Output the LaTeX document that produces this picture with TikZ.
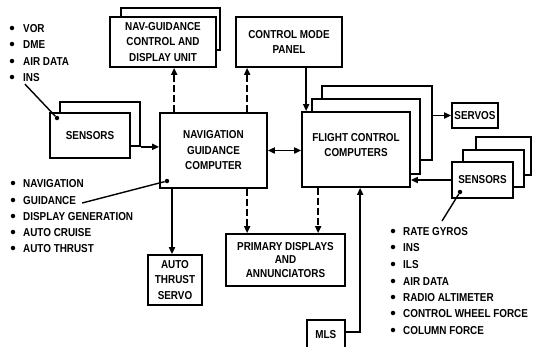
\documentclass[tikz,border=0pt]{standalone}
\usepackage{fontspec}
\setmainfont{Liberation Sans}[FakeStretch=0.86]
\usetikzlibrary{arrows.meta}
\newcommand\dfont{\fontsize{11.5}{15.5}\selectfont\bfseries}
\tikzset{
  box/.style={draw, line width=1.7pt, fill=white, align=center, inner sep=0pt, font=\dfont},
  back/.style={draw, line width=1.7pt, fill=white, inner sep=0pt},
  arr/.style={line width=1.7pt, -{Triangle[length=7pt,width=6pt]}},
  darr/.style={line width=1.7pt, {Triangle[length=7pt,width=6pt]}-{Triangle[length=7pt,width=6pt]}},
  dsh/.style={dash pattern=on 7pt off 3pt},
  item/.style={anchor=west, inner sep=0pt, text height=8pt, text depth=0pt, font=\dfont},
  bul/.style={circle, fill=black, inner sep=0pt, minimum size=4.5pt},
  ptr/.style={line width=1.4pt},
}
\begin{document}
\begin{tikzpicture}[x=1pt,y=-1pt]
\useasboundingbox (0,0) rectangle (534,346);
\fill[white] (0,0) rectangle (534,346);
\clip (0,0) rectangle (534,346);

% Nav-guidance CDU (stacked)
\node[back, minimum width=99, minimum height=42] (cdub) at (170.5,29) {};
\node[box, minimum width=106, minimum height=50] (cdu) at (163,42) {NAV-GUIDANCE\\CONTROL AND\\DISPLAY UNIT};

% Control mode panel
\node[box, minimum width=106, minimum height=50] (cmp) at (289,42) {CONTROL MODE\\PANEL};

% Left sensors (stacked)
\node[back, minimum width=80, minimum height=44] (sens1b) at (100,124) {};
\node[box, minimum width=80, minimum height=45] (sens1) at (90,135.5) {SENSORS};

% Navigation guidance computer
\node[box, minimum width=107, minimum height=75] (ngc) at (213.5,150.5) {NAVIGATION\\GUIDANCE\\COMPUTER};

% Flight control computers (stacked)
\node[back, minimum width=110, minimum height=74] (fccb) at (377,123) {};
\node[back, minimum width=108, minimum height=75] (fccm) at (366,136.5) {};
\node[back, minimum width=108, minimum height=75] (fcc) at (356,149.5) {};
\node[font=\dfont, align=center, inner sep=0pt] (fcct) at (356,145) {FLIGHT CONTROL\\COMPUTERS};

% Servos
\node[box, minimum width=46, minimum height=25] (servos) at (475,115.5) {SERVOS};

% Right sensors (stacked)
\node[back, minimum width=55, minimum height=38] (sens2b) at (503.5,156) {};
\node[back, minimum width=61, minimum height=37] (sens2m) at (493.5,168.5) {};
\node[box, minimum width=61, minimum height=36] (sens2) at (482.5,180) {SENSORS};

% Primary displays
\node[box, minimum width=119, minimum height=52, font=\fontsize{11.5}{13.5}\selectfont\bfseries] (pda) at (285.5,260) {PRIMARY DISPLAYS\\AND\\ANNUNCIATORS};

% Auto thrust servo
\node[box, minimum width=54, minimum height=50] (ats) at (175,280) {AUTO\\THRUST\\SERVO};

% MLS
\node[box, minimum width=38, minimum height=30, anchor=north west] (mls) at (306,319) {MLS};

% Connectors
\draw[arr] (sens1b.south east) -- (sens1b.south east -| ngc.west);
\draw[arr, dsh] ([xshift=15pt]ngc.north west) -- ([xshift=15pt]ngc.north west |- cdu.south);
\draw[arr, dsh] ([xshift=88pt]ngc.north west) -- ([xshift=88pt]ngc.north west |- cmp.south);
\draw[arr] ([xshift=71pt]cmp.south west) -- ([xshift=71pt]cmp.south west |- fcc.north);
\draw[darr] (ngc.east) -- (ngc.east -| fcc.west);
\draw[arr] (servos.west -| fccb.east) -- (servos.west);
\draw[arr] (sens2.west) -- (sens2.west -| fcc.east);
\draw[arr] ([xshift=-3pt]ats.north |- ngc.south) -- ([xshift=-3pt]ats.north);
\draw[arr, dsh] ([xshift=88pt]ngc.south west) -- ([xshift=88pt]ngc.south west |- pda.north);
\draw[arr, dsh] ([xshift=17pt]fcc.south west) -- ([xshift=17pt]fcc.south west |- pda.north);
\draw[arr] (mls.east |- 0,332) -| ([xshift=59pt]fcc.south west);

% Left top list
\foreach \t/\y/\n in {VOR/28/l1, DME/44/l2, AIR DATA/61/l3, INS/77/l4} {
  \node[bul] (b\n) at (12,\y) {};
  \node[item] (\n) at (23,\y) {\t};
}
% Left bottom list
\foreach \t/\y/\n in {NAVIGATION/183/m1, GUIDANCE/200/m2, DISPLAY GENERATION/216/m3, AUTO CRUISE/232/m4, AUTO THRUST/248/m5} {
  \node[bul] (b\n) at (13,\y) {};
  \node[item] (\n) at (23,\y) {\t};
}
% Right list
\foreach \t/\y/\n in {RATE GYROS/231/r1, INS/247/r2, ILS/264/r3, AIR DATA/281/r4, RADIO ALTIMETER/297/r5, CONTROL WHEEL FORCE/313/r6, COLUMN FORCE/330/r7} {
  \node[bul] (b\n) at (393,\y) {};
  \node[item] (\n) at (403,\y) {\t};
}

% Pointer lines with dots
\node[bul] (d1) at (57,118) {};
\node[bul] (d2) at (167,181) {};
\node[bul] (d3) at (460,192) {};
\draw[ptr] ([xshift=2pt,yshift=-3pt]l4.south west) -- (d1);
\draw[ptr] ([xshift=6pt,yshift=-3pt]m2.east) -- (d2);
\coordinate (rgp) at (442,221);
\draw[ptr] (d3) -- (rgp);
\end{tikzpicture}
\end{document}
